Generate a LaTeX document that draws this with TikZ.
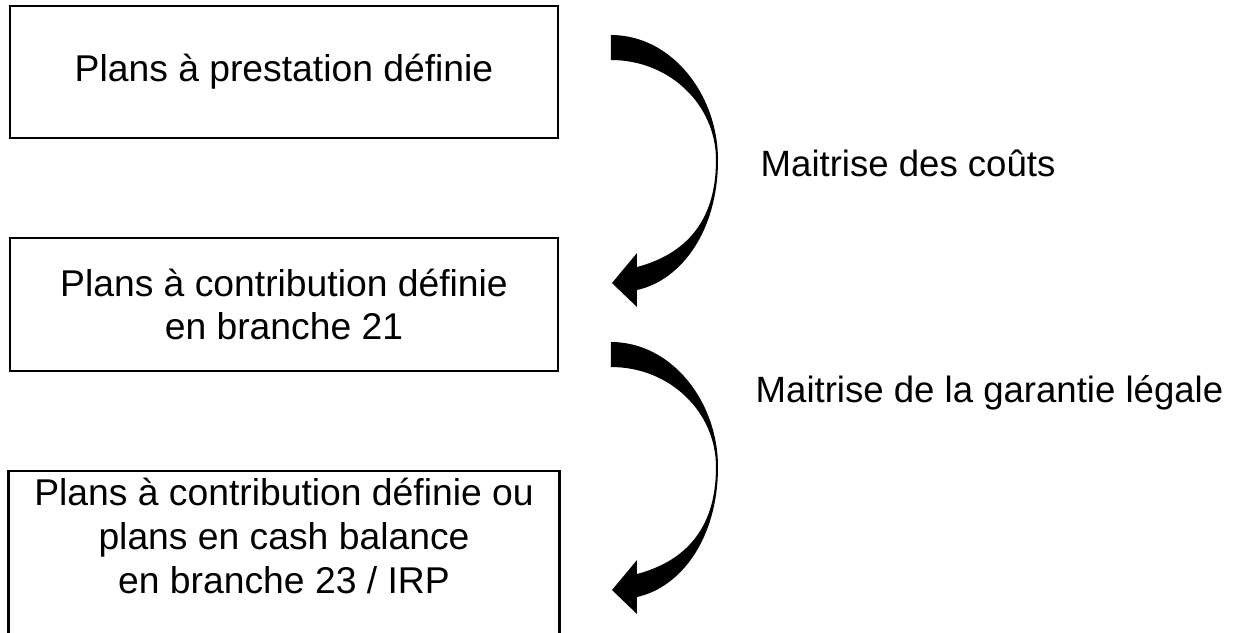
\documentclass[tikz,border=0pt]{standalone}
\usepackage{fontspec}
\setmainfont{Liberation Sans}
\usetikzlibrary{positioning}

\begin{document}
\begin{tikzpicture}[x=0.01cm,y=-0.01cm,every node/.style={font=\fontsize{10.6}{12.4}\selectfont}]
\tikzstyle{plan}=[draw,line width=0.7pt,minimum width=5.48cm,inner sep=0,align=center]
\tikzstyle{lbl}=[anchor=west,inner sep=0,font=\fontsize{10.4}{12}\selectfont]
% curved arrow, tail at upper left, head at lower left
\tikzset{
  bend/.pic={
    \fill (611,0) .. controls (672,0) and (718,60) .. (718,125)
      .. controls (718,195) and (682,245) .. (637,255) -- (637,272) -- (612,248)
      -- (637,218) -- (637,232) .. controls (682,220) and (716,190) .. (716,125)
      .. controls (716,70) and (670,25) .. (611,25) -- cycle;
  }
}
\useasboundingbox (0,0) rectangle (1256,632);
\node[plan,minimum height=1.32cm] (p1) at (284,72) {Plans à prestation définie};
\node[plan,minimum height=1.33cm] (p2) at (284,304.5) {Plans à contribution définie\\en branche 21};
% last box runs off the bottom edge
\node[plan,draw=none,minimum height=1.28cm] (p3) at (284,536) {Plans à contribution définie ou\\plans en cash balance\\en branche 23 / IRP};
\draw[line width=0.7pt] (p3.north west) ++(0,200) -- (p3.north west) -- (p3.north east) -- ++(0,200);
\pic at (0,35) {bend};
\pic at (0,342) {bend};
\node[lbl] (m1) at (760,163) {Maitrise des coûts};
\node[lbl] (m2) at (755,393) {Maitrise de la garantie légale};
\end{tikzpicture}
\end{document}
